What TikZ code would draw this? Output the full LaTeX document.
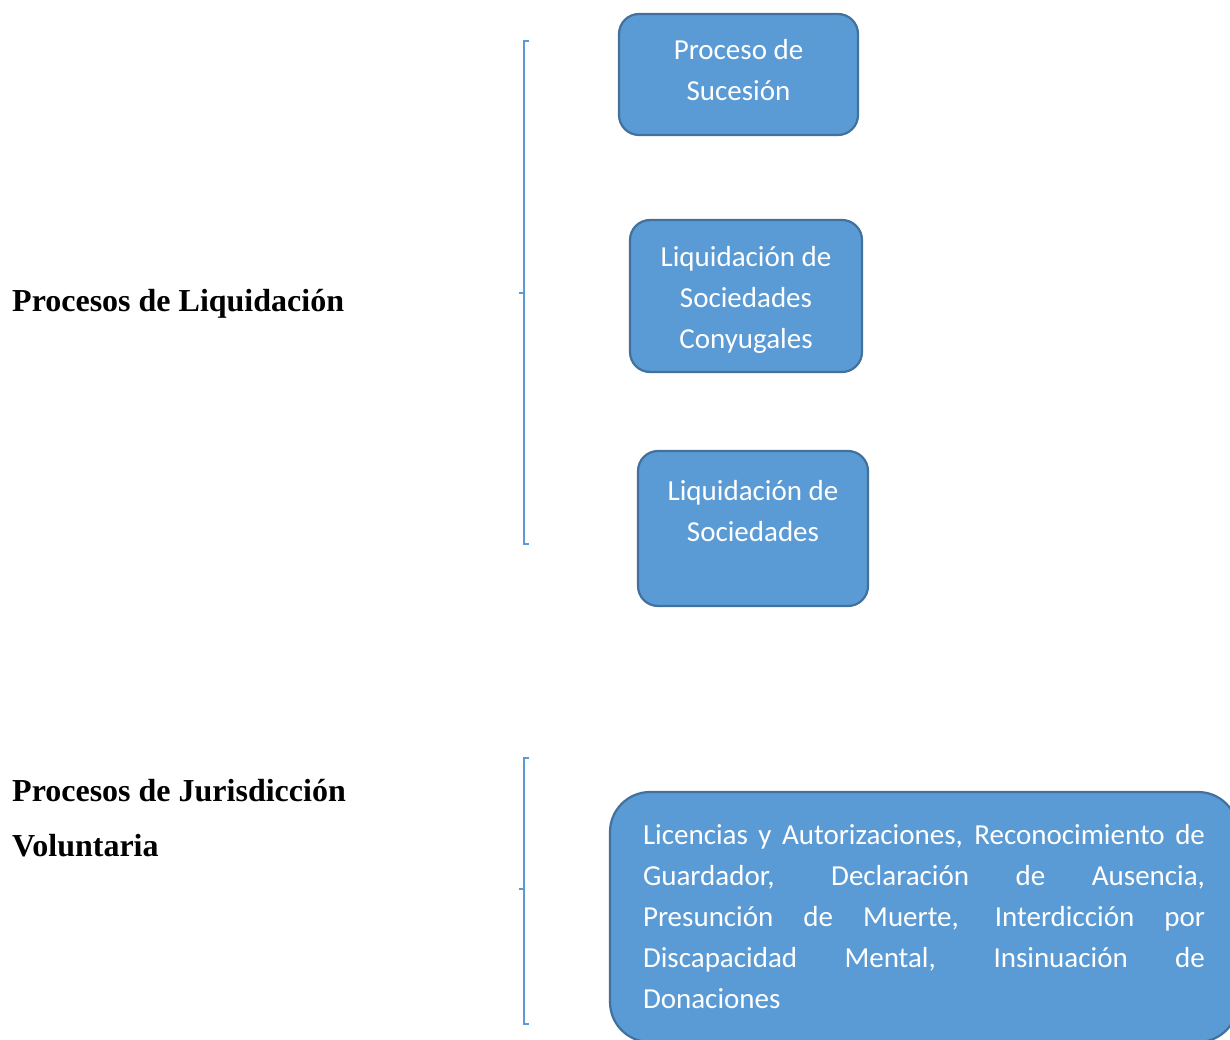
\documentclass[tikz,border=0pt]{standalone}
\usepackage{fontspec}
\setmainfont{Liberation Serif}
\newfontfamily\cajafont{Carlito}
\definecolor{azulcaja}{RGB}{91,155,213}
\definecolor{bordecaja}{RGB}{65,113,156}

\begin{document}
\begin{tikzpicture}[x=1pt,y=1pt,
		caja/.style={draw=bordecaja, line width=2.2pt, fill=azulcaja, rounded corners=20pt,
			text=white, align=center, font=\cajafont\fontsize{29}{41}\selectfont},
		titulo/.style={anchor=base west, align=left, font=\bfseries\fontsize{32}{55}\selectfont},
		llave/.style={draw=azulcaja, line width=1.5pt}]
		\tikzstyle{every node}+=[inner sep=0pt]
		\useasboundingbox (0,0) rectangle (1230,-1040);
		\clip (0,0) rectangle (1230,-1040);
		% titulos
		\node [titulo] (liquidacion) at (12,-311) {Procesos de Liquidación};
		\node [titulo, anchor=west] (jurisdiccion) at (12,-791) {Procesos de Jurisdicción};
		\node [titulo, anchor=west] (voluntaria) at (12,-846) {Voluntaria};
		% cajas
		\node [caja, minimum width=239pt, minimum height=121pt, text depth=10pt] (sucesion) at (738.5,-74.5) {Proceso de\\Sucesión};
		\node [caja, minimum width=232pt, minimum height=152pt, text height=110pt] (conyugales) at (746,-296) {Liquidación de\\Sociedades\\Conyugales};
		\node [caja, minimum width=230pt, minimum height=155pt, text height=108pt] (sociedades) at (753,-528.5) {Liquidación de\\Sociedades\\\mbox{}};
		\node [caja, rounded corners=40pt, minimum width=628pt, minimum height=250pt, align=justify, text width=562pt] (voluntarios) at (924,-917)
			{Licencias y Autorizaciones, Reconocimiento de\linebreak Guardador, Declaración de Ausencia,\linebreak Presunción de Muerte, Interdicción por\linebreak Discapacidad Mental, Insinuación de\linebreak Donaciones\par};
		% llaves
		\coordinate (l1a) at (524,-41);
		\coordinate (l1b) at (524,-544);
		\coordinate (l1m) at (524,-293);
		\draw [llave] ([xshift=5pt]l1a) -- (l1a) -- (l1b) -- ([xshift=5pt]l1b);
		\draw [llave] (l1m) -- ([xshift=-5pt]l1m);
		\coordinate (l2a) at (524,-758);
		\coordinate (l2b) at (524,-1024);
		\coordinate (l2m) at (524,-889);
		\draw [llave] ([xshift=5pt]l2a) -- (l2a) -- (l2b) -- ([xshift=5pt]l2b);
		\draw [llave] (l2m) -- ([xshift=-5pt]l2m);
	\end{tikzpicture}
\end{document}
